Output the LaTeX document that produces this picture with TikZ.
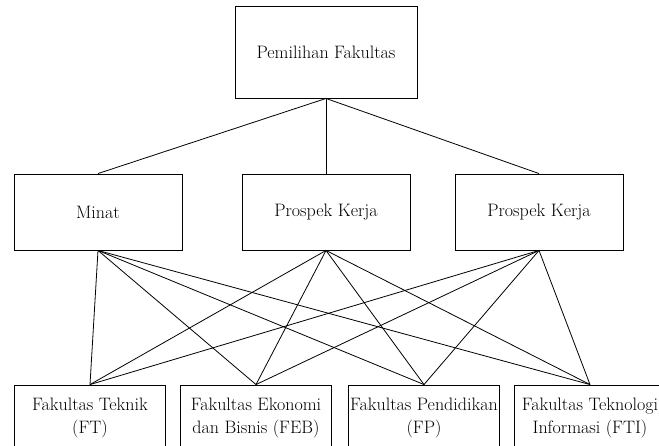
\documentclass[tikz,border=0pt]{standalone}
\usepackage{tikz}
\usetikzlibrary{positioning}
\tikzstyle{kotak}    = [draw=black, line width=0.9pt, fill=white, text centered, font=\fontsize{18}{23.5}\selectfont]
\tikzstyle{utama}    = [kotak, minimum width=182pt, minimum height=92pt]
\tikzstyle{kriteria} = [kotak, minimum width=168pt, minimum height=76pt]
\tikzstyle{fakultas} = [kotak, minimum width=151pt, minimum height=66pt, align=center, inner sep=1pt]
\tikzstyle{garis}    = [line width=0.8pt, -]

\begin{document}
\begin{tikzpicture}[x=1pt,y=-1pt]
        \useasboundingbox (0,0) rectangle (659,445);
        \clip (0,0) rectangle (659,445);

        % tujuan
        \node[utama] (pilih) at (326,52) {Pemilihan Fakultas};

        % kriteria
        \node[kriteria] (minat) at (98,212) {Minat};
        \node[kriteria] (kerja1) at (326,212) {Prospek Kerja};
        \node[kriteria] (kerja2) at (539,212) {Prospek Kerja};

        % alternatif
        \node[fakultas] (ft) at (90,418) {Fakultas Teknik\\(FT)};
        \node[fakultas] (feb) at (256,418) {Fakultas Ekonomi\\dan Bisnis (FEB)};
        \node[fakultas] (fp) at (424,418) {Fakultas Pendidikan\\(FP)};
        \node[fakultas] (fti) at (590,418) {Fakultas Teknologi\\Informasi (FTI)};

        \foreach \k in {minat,kerja1,kerja2}
            \draw[garis] (pilih.south) -- (\k.north);

        \foreach \k in {minat,kerja1,kerja2}
            \foreach \f in {ft,feb,fp,fti}
                \draw[garis] (\k.south) -- (\f.north);
    \end{tikzpicture}
\end{document}
